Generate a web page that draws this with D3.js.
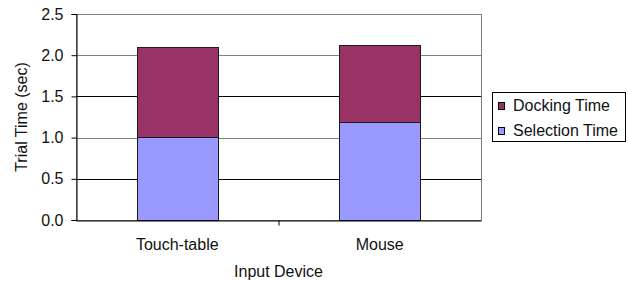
<!DOCTYPE html>
<html>
<head>
<meta charset="utf-8">
<script src="https://cdn.jsdelivr.net/npm/d3@7"></script>
<style>
  html, body { margin: 0; padding: 0; background: #fff; }
  svg text { font-family: Arial, "Liberation Sans", sans-serif; fill: #111; }
</style>
</head>
<body>
<script>
const devices   = ['Touch-table', 'Mouse'],
      selection = [1.01, 1.19],
      docking   = [1.09, 0.93],
      yTicks    = [0, 0.5, 1.0, 1.5, 2.0, 2.5],
      seriesNames  = ['Selection Time', 'Docking Time'],
      seriesColors = ['#9999ff', '#993366'];

const width  = 628,
      height = 282,
      margin = { top: 14, right: 147, bottom: 62, left: 76 },
      fontSize = '16px';

const svg = d3.select('body').append('svg')
  .attr('width', width)
  .attr('height', height);

const innerW = width - margin.left - margin.right,
      innerH = height - margin.top - margin.bottom;

const x = d3.scaleBand()
  .domain(devices)
  .range([margin.left, margin.left + innerW])
  .paddingInner(0.6)
  .paddingOuter(0.3);

const y = d3.scaleLinear()
  .domain([0, 2.5])
  .range([margin.top + innerH, margin.top]);

// plot border + gridlines
svg.append('rect')
  .attr('x', margin.left + 0.5).attr('y', margin.top + 0.5)
  .attr('width', innerW).attr('height', innerH)
  .attr('fill', 'none').attr('stroke', '#808080');

svg.append('g')
  .selectAll('line')
  .data(yTicks.filter(d => d > 0 && d < 2.5))
  .join('line')
    .attr('x1', margin.left).attr('x2', margin.left + innerW)
    .attr('y1', d => Math.round(y(d)) + 0.5).attr('y2', d => Math.round(y(d)) + 0.5)
    .attr('stroke', d => Number.isInteger(d) ? '#808080' : '#000');

// stacked bars
const rows  = devices.map((d, i) => ({ device: d, sel: selection[i], dock: docking[i] }));
const stack = d3.stack().keys(['sel', 'dock'])(rows);

svg.append('g')
  .selectAll('g')
  .data(stack)
  .join('g')
    .attr('fill', (d, i) => seriesColors[i])
  .selectAll('rect')
  .data(d => d)
  .join('rect')
    .attr('x', d => Math.round(x(d.data.device)) + 0.5)
    .attr('y', d => Math.round(y(d[1])) + 0.5)
    .attr('width', x.bandwidth())
    .attr('height', d => Math.round(y(d[0])) - Math.round(y(d[1])))
    .attr('stroke', '#1a1a1a');

// y axis
const yAxis = svg.append('g')
  .attr('transform', `translate(${margin.left + 0.5},0)`)
  .call(d3.axisLeft(y).tickValues(yTicks).tickFormat(d3.format('.1f')).tickSize(5).tickPadding(8));
yAxis.select('.domain').attr('stroke', '#000');
yAxis.selectAll('.tick line').attr('stroke', '#000');
yAxis.selectAll('text').style('font-size', fontSize).attr('fill', '#111');

// x axis
const xAxis = svg.append('g')
  .attr('transform', `translate(0,${margin.top + innerH + 0.5})`)
  .call(d3.axisBottom(x).tickSize(0).tickPadding(18));
xAxis.select('.domain').attr('stroke', '#000');
xAxis.selectAll('text').style('font-size', fontSize).attr('fill', '#111');

// category separator tick
xAxis.append('line')
  .attr('x1', margin.left + innerW / 2 + 0.5).attr('x2', margin.left + innerW / 2 + 0.5)
  .attr('y1', 0).attr('y2', 5)
  .attr('stroke', '#000');

// axis titles
svg.append('text')
  .attr('x', margin.left + innerW / 2)
  .attr('y', 277)
  .attr('text-anchor', 'middle')
  .style('font-size', fontSize)
  .text('Input Device');

svg.append('text')
  .attr('transform', `translate(27,${margin.top + innerH / 2}) rotate(-90)`)
  .attr('text-anchor', 'middle')
  .style('font-size', fontSize)
  .text('Trial Time (sec)');

// legend
const legend = svg.append('g').attr('transform', 'translate(492,92)');
legend.append('rect')
  .attr('x', 0.5).attr('y', 0.5)
  .attr('width', 133).attr('height', 49)
  .attr('fill', '#fff').attr('stroke', '#000');

const items = legend.selectAll('g.item')
  .data([1, 0])
  .join('g')
    .attr('class', 'item')
    .attr('transform', (d, i) => `translate(6,${10 + i * 25})`);

items.append('rect')
  .attr('x', 0.5).attr('y', 0.5)
  .attr('width', 6).attr('height', 7)
  .attr('fill', d => seriesColors[d])
  .attr('stroke', '#000');

items.append('text')
  .attr('x', 15).attr('y', 9)
  .style('font-size', fontSize)
  .text(d => seriesNames[d]);
</script>
</body>
</html>
